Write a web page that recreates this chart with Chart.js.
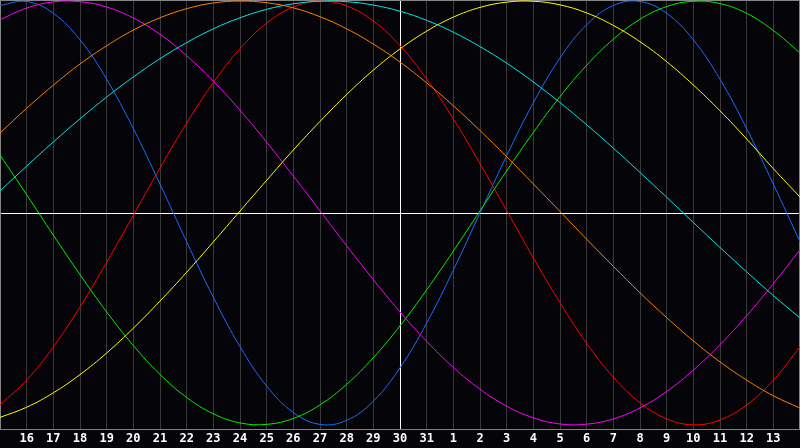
<!DOCTYPE html>
<html>
<head>
<meta charset="utf-8">
<script src="https://cdn.jsdelivr.net/npm/chart.js@4/dist/chart.umd.min.js"></script>
<style>
  html, body { margin: 0; padding: 0; background: #050408; }
  #wrap { width: 800px; height: 448px; }
</style>
</head>
<body>
<div id="wrap"><canvas id="bio" width="800" height="448"></canvas></div>
<script>
const days = [15, 16, 17, 18, 19, 20, 21, 22, 23, 24, 25, 26, 27, 28, 29, 30, 31,
  1, 2, 3, 4, 5, 6, 7, 8, 9, 10, 11, 12, 13, 14];
const todayIndex = 15;

const blue = [0.979, 0.998, 0.942, 0.817, 0.631, 0.398, 0.136, -0.136, -0.398, -0.631,
  -0.817, -0.942, -0.998, -0.979, -0.888, -0.731, -0.520, -0.270, 0.000, 0.270,
  0.520, 0.731, 0.888, 0.979, 0.998, 0.942, 0.817, 0.631, 0.398, 0.136, -0.136];
const red = [-0.906, -0.789, -0.632, -0.444, -0.233, -0.011, 0.212, 0.424, 0.615, 0.775,
  0.896, 0.972, 1.000, 0.977, 0.906, 0.789, 0.632, 0.444, 0.233, 0.011,
  -0.212, -0.424, -0.615, -0.775, -0.896, -0.972, -1.000, -0.977, -0.906, -0.789, -0.632];
const green = [0.273, 0.086, -0.105, -0.291, -0.467, -0.626, -0.762, -0.871, -0.948, -0.991,
  -0.998, -0.970, -0.906, -0.809, -0.683, -0.533, -0.363, -0.180, 0.010, 0.199,
  0.380, 0.549, 0.697, 0.820, 0.914, 0.974, 0.999, 0.988, 0.942, 0.861, 0.755];
const magenta = [0.912, 0.967, 0.996, 0.997, 0.972, 0.920, 0.843, 0.742, 0.622, 0.485,
  0.334, 0.174, 0.010, -0.155, -0.315, -0.467, -0.606, -0.729, -0.832, -0.912,
  -0.967, -0.996, -0.997, -0.972, -0.920, -0.843, -0.742, -0.622, -0.485, -0.334, -0.174];
const yellow = [-0.965, -0.917, -0.849, -0.763, -0.661, -0.544, -0.416, -0.280, -0.137, 0.009,
  0.154, 0.297, 0.432, 0.559, 0.674, 0.774, 0.858, 0.924, 0.970, 0.995,
  0.999, 0.982, 0.944, 0.885, 0.808, 0.714, 0.604, 0.482, 0.349, 0.209, 0.075];
const orange = [0.377, 0.494, 0.603, 0.703, 0.789, 0.863, 0.921, 0.964, 0.991, 1.000,
  0.992, 0.968, 0.926, 0.869, 0.797, 0.712, 0.614, 0.506, 0.389, 0.265,
  0.137, 0.007, -0.124, -0.252, -0.377, -0.494, -0.604, -0.703, -0.789, -0.863, -0.921];
const cyan = [0.104, 0.221, 0.335, 0.444, 0.547, 0.642, 0.728, 0.804, 0.869, 0.921,
  0.961, 0.987, 0.999, 0.997, 0.981, 0.952, 0.909, 0.853, 0.785, 0.707,
  0.618, 0.521, 0.416, 0.306, 0.191, 0.074, -0.045, -0.163, -0.278, -0.390, -0.496];

// frame + zero line drawn from the scales
const framePlugin = {
  id: "frame",
  beforeDatasetsDraw(chart) {
    const { ctx, chartArea: a, scales } = chart;
    const y0 = Math.round(scales.y.getPixelForValue(0)) + 0.5;
    ctx.save();
    ctx.lineWidth = 1;
    ctx.strokeStyle = "#ffffff";
    ctx.beginPath();
    ctx.moveTo(a.left, y0);
    ctx.lineTo(a.right, y0);
    ctx.stroke();
    ctx.strokeStyle = "#858585";
    ctx.strokeRect(a.left + 0.5, a.top + 0.5, a.right - a.left - 1, a.bottom - a.top);
    ctx.restore();
  },
};

const line = (data, color) => ({
  data: data,
  borderColor: color,
  borderWidth: 1,
  pointRadius: 0,
  tension: 0.4,
  fill: false,
});

new Chart(document.getElementById("bio"), {
  type: "line",
  data: {
    labels: days,
    datasets: [
      line(orange, "#ff8000"),
      line(cyan, "#00e8e8"),
      line(yellow, "#ffff00"),
      line(magenta, "#ff00ff"),
      line(green, "#00f000"),
      line(red, "#ff0000"),
      line(blue, "#1a6cff"),
    ],
  },
  options: {
    responsive: false,
    animation: false,
    events: [],
    layout: { autoPadding: false, padding: 0 },
    plugins: { legend: { display: false }, tooltip: { enabled: false } },
    scales: {
      x: {
        offset: false,
        border: { display: false },
        grid: {
          drawTicks: false,
          lineWidth: 1,
          color: (c) => (c.index === todayIndex ? "#ffffff" : "#3a3a3a"),
        },
        ticks: {
          autoSkip: false,
          maxRotation: 0,
          padding: 0,
          color: "#ffffff",
          font: { family: "DejaVu Sans Mono", size: 12, weight: "bold", lineHeight: 1.58 },
          callback: (v, i) => (i === 0 || i === days.length - 1 ? "" : days[i]),
        },
      },
      y: {
        display: false,
        min: -1.02,
        max: 1.005,
      },
    },
  },
  plugins: [framePlugin],
});
</script>
</body>
</html>
